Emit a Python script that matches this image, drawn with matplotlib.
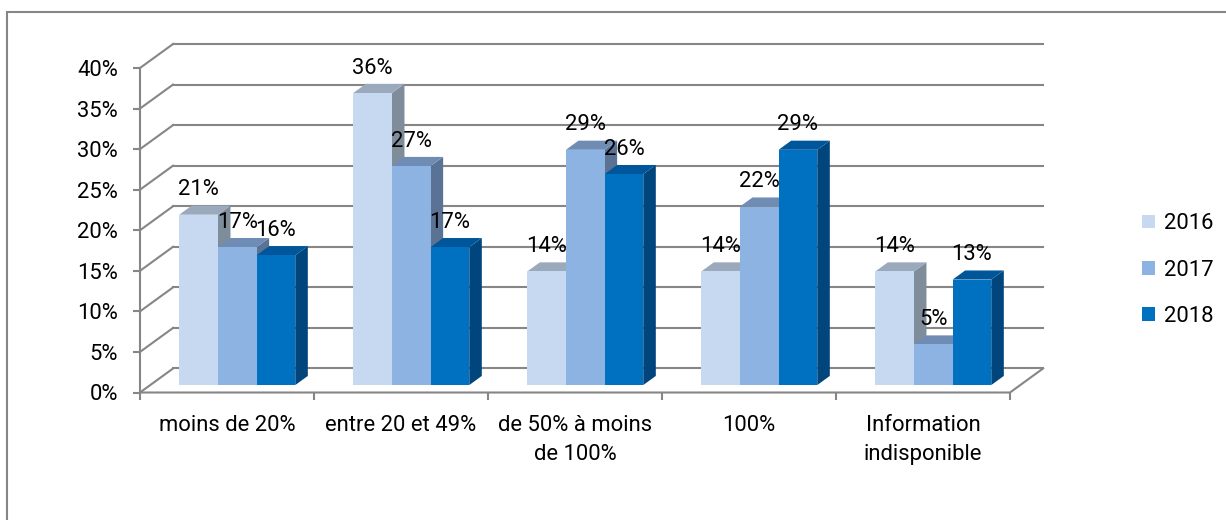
import matplotlib.pyplot as plt
from matplotlib.patches import Polygon, Rectangle, Patch

categories = ["moins de 20%", "entre 20 et 49%", "de 50% à moins\nde 100%", "100%", "Information\nindisponible"]
years = ["2016", "2017", "2018"]
v2016 = [21, 36, 14, 14, 14]
v2017 = [17, 27, 29, 22, 5]
v2018 = [16, 17, 26, 29, 13]
yticks = [0, 5, 10, 15, 20, 25, 30, 35, 40]

# front / top / side shades for each series
front_colors = ["#c6d9f1", "#8db3e2", "#0070c0"]
top_colors = ["#9ba9bc", "#6f8cb4", "#00569a"]
side_colors = ["#7f8c99", "#5a7394", "#00467d"]

grid_color = "#868686"
plt.rcParams["font.family"] = ["Roboto", "DejaVu Sans"]
plt.rcParams["font.size"] = 15.8

W, H = 1226, 520
fig = plt.figure(figsize=(W / 100, H / 100), dpi=100)
ax = fig.add_axes([140 / W, (H - 392.5) / H, 870 / W, 324.5 / H])
ax.set_xlim(0, 5)
ax.set_ylim(0, 40)

# outer chart border
fig.patches.append(Rectangle((7 / W, -0.1), 1.2, 1 - 12 / H + 0.1, transform=fig.transFigure,
                             fill=False, ec=grid_color, lw=1.5))

# depth of the floor (data units) and of the bars inside it
DX, DY = 0.19, 2.96
f0, f1 = 0.31, 0.69
bw = 1 / 4.5

for s in ax.spines.values():
    s.set_visible(False)

# back wall gridlines and side wall diagonals
for v in yticks:
    ax.plot([DX, 5 + DX], [v + DY, v + DY], color=grid_color, lw=1.5, clip_on=False, zorder=1)
    ax.plot([0, DX], [v, v + DY], color=grid_color, lw=1.5, clip_on=False, zorder=1)
# floor
ax.plot([0, 5, 5 + DX], [0, 0, DY], color=grid_color, lw=1.5, clip_on=False, zorder=1)
ax.plot([0, 0], [0, 40], color=grid_color, lw=1.5, clip_on=False, zorder=1)

series = [v2016, v2017, v2018]
for i in range(len(categories)):
    for j, vals in enumerate(series):
        v = vals[i]
        xl = i + 0.5 - 1.5 * bw + j * bw + f0 * DX
        xr = xl + bw
        yb = f0 * DY
        yt = v + f0 * DY
        ddx, ddy = (f1 - f0) * DX, (f1 - f0) * DY
        z = 3 + i * 3 + j
        ax.add_patch(Polygon([(xr, yb), (xr, yt), (xr + ddx, yt + ddy), (xr + ddx, yb + ddy)],
                             closed=True, fc=side_colors[j], lw=0, clip_on=False, zorder=z))
        ax.add_patch(Polygon([(xl, yt), (xr, yt), (xr + ddx, yt + ddy), (xl + ddx, yt + ddy)],
                             closed=True, fc=top_colors[j], lw=0, clip_on=False, zorder=z))
        ax.bar(xl, v, width=bw, bottom=yb, align="edge", color=front_colors[j], lw=0,
               clip_on=False, zorder=z)
        ax.text(xl + bw / 2, yt + 3.08, f"{v}%", ha="center", va="center", zorder=30)

ax.set_yticks(yticks)
ax.set_yticklabels([f"{t}%" for t in yticks])
ax.tick_params(axis="y", length=5, width=1.5, color=grid_color, pad=11)

ax.set_xticks([i + 0.5 for i in range(len(categories))])
ax.set_xticklabels(categories, linespacing=1.5)
ax.set_xticks(range(len(categories) + 1), minor=True)
ax.tick_params(axis="x", which="major", length=0, pad=16)
ax.tick_params(axis="x", which="minor", length=5, width=1.5, color=grid_color)

handles = [Patch(facecolor=c, label=y) for c, y in zip(front_colors, years)]
fig.legend(handles=handles, loc="center left", bbox_to_anchor=(1122 / W, 1 - 270 / H),
           frameon=False, handlelength=0.6, handleheight=0.6, handletextpad=0.4,
           labelspacing=1.15)

fig.savefig("out.png", dpi=100, facecolor="white")
